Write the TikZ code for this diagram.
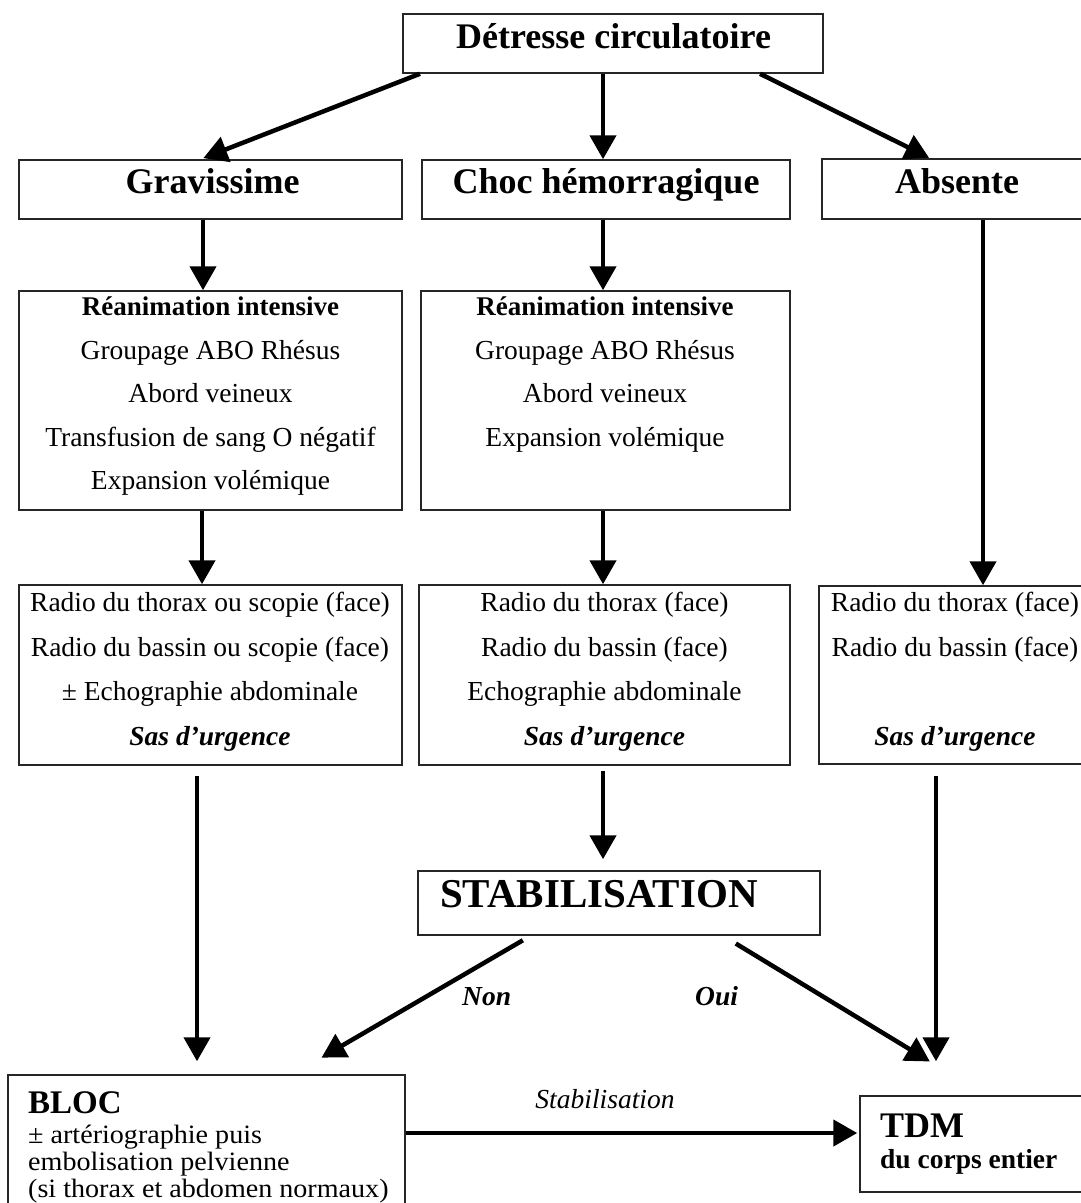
\documentclass[tikz,border=0pt]{standalone}
\usepackage{fontspec}
\setmainfont{Liberation Serif}
\newfontfamily\widerm[FakeStretch=1.06]{Liberation Serif}
\usetikzlibrary{arrows.meta}
\begin{document}
\begin{tikzpicture}[x=1pt,y=-1pt,
  box/.style={draw=black!85, line width=1.5pt, inner sep=0pt},
  arr/.style={line width=4.5pt, -{Triangle[length=24pt,width=26pt]}},
  head/.style={font=\fontsize{36}{40}\selectfont\bfseries, inner sep=0pt, anchor=base},
  txt/.style={font=\fontsize{27.5}{33}\selectfont, inner sep=0pt, anchor=base},
  btxt/.style={txt, font=\fontsize{27}{33}\selectfont\bfseries},
  bitxt/.style={txt, font=\fontsize{27.5}{33}\selectfont\bfseries\itshape},
  itxt/.style={txt, font=\fontsize{27.5}{33}\selectfont\itshape},
  stxt/.style={font=\widerm\fontsize{26.5}{27}\selectfont, inner sep=0pt, anchor=base west}
]
\useasboundingbox (0,0) rectangle (1081,1203);
\fill[white] (0,0) rectangle (1081,1203);
\clip (0,0) rectangle (1081,1203);

% ---- boxes ----
\node[box, minimum width=420, minimum height=59] (top) at (613,43.5) {};
\node[box, minimum width=383, minimum height=59] (grav) at (210.5,189.5) {};
\node[box, minimum width=368, minimum height=59] (choc) at (606,189.5) {};
\node[box, minimum width=273, minimum height=60] (abs) at (958.5,189) {};
\node[box, minimum width=383, minimum height=219] (r3a) at (210.5,400.5) {};
\node[box, minimum width=369, minimum height=219] (r3b) at (605.5,400.5) {};
\node[box, minimum width=383, minimum height=180] (r4a) at (210.5,675) {};
\node[box, minimum width=371, minimum height=180] (r4b) at (604.5,675) {};
\node[box, minimum width=276, minimum height=178] (r4c) at (957,675) {};
\node[box, minimum width=402, minimum height=64] (stab) at (619,903) {};
\node[box, minimum width=397, minimum height=140] (bloc) at (206.5,1145) {};
\node[box, minimum width=235, minimum height=96] (tdm) at (977.5,1144) {};

% ---- headings ----
\node[head] (ttop) at (613.5,48) {Détresse circulatoire};
\node[head] (tgrav) at (212.5,193) {Gravissime};
\node[head] (tchoc) at (606,193) {Choc hémorragique};
\node[head] (tabs) at (957,193) {Absente};

% ---- resuscitation boxes ----
\node[btxt] (a1) at (210.5,315) {Réanimation intensive};
\node[txt] (a2) at (210.5,359) {Groupage ABO Rhésus};
\node[txt] (a3) at (210.5,402) {Abord veineux};
\node[txt] (a4) at (210.5,446) {Transfusion de sang O négatif};
\node[txt] (a5) at (210.5,489) {Expansion volémique};

\node[btxt] (b1) at (605,315) {Réanimation intensive};
\node[txt] (b2) at (605,359) {Groupage ABO Rhésus};
\node[txt] (b3) at (605,402) {Abord veineux};
\node[txt] (b4) at (605,446) {Expansion volémique};

% ---- imaging boxes ----
\node[txt] (c1) at (210,611) {Radio du thorax ou scopie (face)};
\node[txt] (c2) at (210,656) {Radio du bassin ou scopie (face)};
\node[txt] (c3) at (210,700) {± Echographie abdominale};
\node[bitxt] (c4) at (210,745) {Sas d’urgence};

\node[txt] (d1) at (604.5,611) {Radio du thorax (face)};
\node[txt] (d2) at (604.5,656) {Radio du bassin (face)};
\node[txt] (d3) at (604.5,700) {Echographie abdominale};
\node[bitxt] (d4) at (604.5,745) {Sas d’urgence};

\node[txt] (e1) at (955,611) {Radio du thorax (face)};
\node[txt] (e2) at (955,656) {Radio du bassin (face)};
\node[bitxt] (e4) at (955,745) {Sas d’urgence};

% ---- stabilisation ----
\node[font=\fontsize{41}{44}\selectfont\bfseries, inner sep=0pt, anchor=base west] (tstab) at (440,907) {STABILISATION};
\node[bitxt, anchor=base west] (lnon) at (462,1005) {Non};
\node[bitxt, anchor=base west] (loui) at (695,1005) {Oui};

% ---- bottom boxes ----
\node[font=\fontsize{33}{36}\selectfont\bfseries, inner sep=0pt, anchor=base west] (tbloc) at (28,1113) {BLOC};
\node[stxt] (f1) at (28,1143) {± artériographie puis};
\node[stxt] (f2) at (28,1170) {embolisation pelvienne};
\node[stxt] (f3) at (28,1197) {(si thorax et abdomen normaux)};

\node[font=\fontsize{36}{40}\selectfont\bfseries, inner sep=0pt, anchor=base west] (ttdm) at (880,1137) {TDM};
\node[btxt, font=\fontsize{27.5}{33}\selectfont\bfseries, anchor=base west] (g1) at (880,1168) {du corps entier};

\node[itxt] (lstab) at (605,1108) {Stabilisation};

% ---- connectors ----
\draw[arr, shorten >=3] ([xshift=-193]top.south) -- ([xshift=-10]grav.north);
\draw[arr] ([xshift=-10]top.south) -- ([xshift=-3]choc.north);
\draw[arr, shorten >=1] ([xshift=147]top.south) -- ([xshift=-28.5]abs.north);

\draw[arr] ([xshift=-7.5]grav.south) -- ([xshift=-7.5]r3a.north);
\draw[arr] ([xshift=-3]choc.south) -- ([xshift=-2.5]r3b.north);
\draw[arr] ([xshift=24.5]abs.south) -- ([xshift=26]r4c.north);

\draw[arr] ([xshift=-8.5]r3a.south) -- ([xshift=-8.5]r4a.north);
\draw[arr] ([xshift=-2.5]r3b.south) -- ([xshift=-1.5]r4b.north);

\draw[arr, shorten <=10, shorten >=13] ([xshift=-13.5]r4a.south) -- ([xshift=-9.5]bloc.north);
\draw[arr, shorten <=5, shorten >=11] ([xshift=-1.5]r4b.south) -- ([xshift=-16]stab.north);
\draw[arr, shorten <=11, shorten >=34] ([xshift=-21]r4c.south) -- ([xshift=-41.5]tdm.north);

\draw[arr, shorten <=9, shorten >=33] ([xshift=-88.4]stab.south) -- ([xshift=86.5]bloc.north);
\draw[arr, shorten <=15, shorten >=65] ([xshift=104]stab.south) -- ([xshift=7.9]tdm.north);

\draw[arr, shorten >=2] ([yshift=12]bloc.east) -- ([yshift=11]tdm.west);
\end{tikzpicture}
\end{document}
